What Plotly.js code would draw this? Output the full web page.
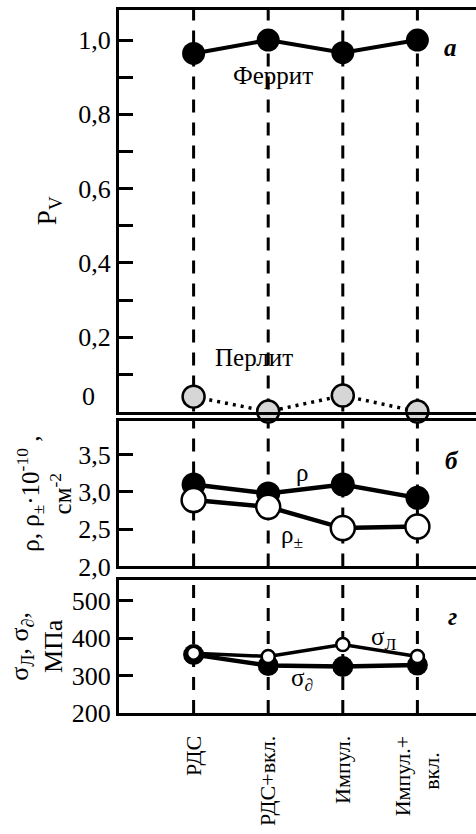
<!DOCTYPE html>
<html>
<head>
<meta charset="utf-8">
<script src="https://cdn.plot.ly/plotly-3.0.1.min.js"></script>
<style>
html,body{margin:0;padding:0;overflow:hidden;background:#fff;}
#chart{width:500px;height:834px;}
</style>
</head>
<body>
<div id="chart"></div>
<script>
// ---- data ----
const categories = ['РДС', 'РДС+вкл.', 'Импул.', 'Импул.+<br>вкл.\u00a0\u00a0\u00a0'];
const xpos = [1, 2, 3, 4];
const ferrite = [0.964, 1.0, 0.966, 1.0];
const perlite = [0.040, 0.0, 0.043, 0.0];
const rho = [3.10, 2.98, 3.10, 2.92];
const rhoPM = [2.89, 2.80, 2.515, 2.535];
const sigmaL = [360, 351, 383, 351];
const sigmaD = [356, 327, 324, 328];
const pvTickVals = [0.2, 0.4, 0.6, 0.8, 1.0];
const pvMinorVals = [0.1, 0.3, 0.5, 0.7, 0.9];
const rhoTickVals = [2.0, 2.5, 3.0, 3.5];
const sigTickVals = [200, 300, 400, 500];

const FONT = "'Liberation Serif', 'Times New Roman', serif";
const BLACK = '#000';

const traces = [
  {x: xpos, y: ferrite, xaxis: 'x', yaxis: 'y', mode: 'lines+markers', cliponaxis: false,
   line: {color: BLACK, width: 4}, marker: {size: 23, color: BLACK}},
  {x: xpos, y: perlite, xaxis: 'x', yaxis: 'y', mode: 'lines+markers', cliponaxis: false,
   line: {color: BLACK, width: 3.5, dash: '3px,5px'},
   marker: {size: 22, color: '#d6d6d6', line: {color: BLACK, width: 2.5}}},
  {x: xpos, y: rho, xaxis: 'x2', yaxis: 'y2', mode: 'lines+markers', cliponaxis: false,
   line: {color: BLACK, width: 4.5}, marker: {size: 24, color: BLACK}},
  {x: xpos, y: rhoPM, xaxis: 'x2', yaxis: 'y2', mode: 'lines+markers', cliponaxis: false,
   line: {color: BLACK, width: 4.5}, marker: {size: 24, color: '#fff', line: {color: BLACK, width: 2.5}}},
  {x: xpos, y: sigmaD, xaxis: 'x3', yaxis: 'y3', mode: 'lines+markers', cliponaxis: false,
   line: {color: BLACK, width: 4.5}, marker: {size: 21, color: BLACK}},
  {x: xpos, y: sigmaL, xaxis: 'x3', yaxis: 'y3', mode: 'lines+markers', cliponaxis: false,
   line: {color: BLACK, width: 3.5}, marker: {size: 13, color: '#fff', line: {color: BLACK, width: 2.5}}}
];

const shapes = [];
['', '2', '3'].forEach(function (s) {
  xpos.forEach(function (xv) {
    shapes.push({type: 'line', xref: 'x' + s, yref: 'y' + s + ' domain', x0: xv, x1: xv, y0: 0, y1: 1,
      layer: 'below', line: {color: BLACK, width: 3, dash: '13px,10px'}});
  });
});

function xax(extra) {
  return Object.assign({range: [0, 5], showline: true, mirror: true, linecolor: BLACK, linewidth: 3,
    showgrid: false, zeroline: false, ticks: '', fixedrange: true}, extra);
}
function yax(extra) {
  return Object.assign({showline: true, mirror: true, linecolor: BLACK, linewidth: 3, showgrid: false,
    zeroline: false, ticks: 'inside', ticklen: 14, tickwidth: 3, tickcolor: BLACK,
    tickfont: {family: FONT, size: 26, color: BLACK}, tickmode: 'array', fixedrange: true}, extra);
}

const titleFont = {family: FONT, size: 25, color: BLACK};
const annFont = {family: FONT, size: 25, color: BLACK};
const letterFont = {family: FONT, size: 25, color: BLACK};

const layout = {
  width: 500, height: 834,
  margin: {l: 119, r: 8, t: 10, b: 120.7},
  paper_bgcolor: '#fff', plot_bgcolor: '#fff',
  showlegend: false,
  separators: ', ',
  font: {family: FONT, color: BLACK},
  xaxis: xax({anchor: 'y', showticklabels: false}),
  xaxis2: xax({anchor: 'y2', showticklabels: false}),
  xaxis3: xax({anchor: 'y3', showticklabels: true, tickmode: 'array', tickvals: xpos, ticktext: categories,
    tickangle: -90, ticklabelstandoff: 11, tickfont: {family: FONT, size: 22, color: BLACK}}),
  yaxis: yax({domain: [0.4288, 1], range: [0, 1.081], tickvals: pvTickVals, tickformat: '.1f',
    minor: {tickmode: 'array', tickvals: pvMinorVals, ticks: 'inside', ticklen: 14, tickwidth: 3, tickcolor: BLACK},
    title: {text: 'P<sub>V</sub>', font: {family: FONT, size: 27, color: BLACK}, standoff: 14}}),
  yaxis2: yax({domain: [0.2084, 0.4156], range: [2.0, 3.953], tickvals: rhoTickVals, tickformat: '.1f',
    title: {text: 'ρ, ρ<sub>±</sub>·10<sup>-10</sup> ,<br>см<sup>-2</sup>', font: titleFont, standoff: 0}}),
  yaxis3: yax({domain: [0, 0.1895], range: [200, 556], tickvals: sigTickVals,
    title: {text: 'σ<sub>Л</sub>, σ<sub>∂</sub>,<br>МПа', font: {family: FONT, size: 26, color: BLACK}, standoff: 2}}),
  shapes: shapes,
  annotations: [
    {xref: 'paper', yref: 'y', x: -0.0818, y: 0.0396, text: '0', showarrow: false, xanchor: 'center',
     font: {family: FONT, size: 26, color: BLACK}},
    {xref: 'x', yref: 'y', x: 2.06, y: 0.906, text: 'Феррит', showarrow: false, font: annFont},
    {xref: 'x', yref: 'y', x: 1.81, y: 0.145, text: 'Перлит', showarrow: false, font: annFont},
    {xref: 'x2', yref: 'y2', x: 2.45, y: 3.26, text: 'ρ', showarrow: false, font: annFont},
    {xref: 'x2', yref: 'y2', x: 2.32, y: 2.40, text: 'ρ<sub>±</sub>', showarrow: false, font: annFont},
    {xref: 'x3', yref: 'y3', x: 3.55, y: 400, text: 'σ<sub>Л</sub>', showarrow: false, font: annFont},
    {xref: 'x3', yref: 'y3', x: 2.45, y: 289, text: 'σ<sub>∂</sub>', showarrow: false, font: annFont},
    {xref: 'x', yref: 'y domain', x: 4.45, y: 0.945, text: '<b><i>a</i></b>', showarrow: false, font: letterFont},
    {xref: 'x2', yref: 'y2 domain', x: 4.47, y: 0.835, text: '<b><i>б</i></b>', showarrow: false, font: letterFont},
    {xref: 'x3', yref: 'y3 domain', x: 4.47, y: 0.837, text: '<b><i>г</i></b>', showarrow: false, font: letterFont}
  ]
};

Plotly.newPlot('chart', traces, layout, {staticPlot: true, displayModeBar: false});
</script>
</body>
</html>
